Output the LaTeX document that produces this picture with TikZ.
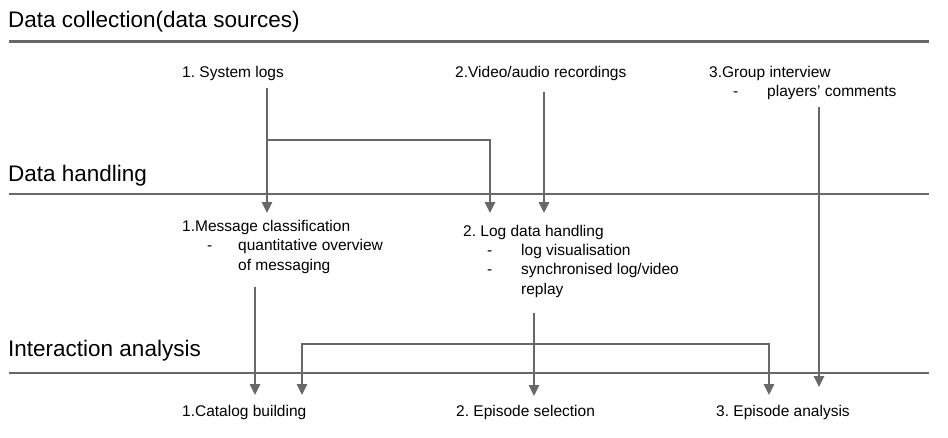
\documentclass[tikz,border=0pt]{standalone}
\usepackage{fontspec}
\setmainfont{Liberation Sans}
\usetikzlibrary{arrows.meta}
\definecolor{rulegray}{RGB}{104,104,104}
\frenchspacing
\tikzset{
	heading/.style={anchor=base west,inner sep=0pt,font=\fontsize{22.5}{27}\selectfont},
	item/.style={anchor=base west,inner sep=0pt,font=\fontsize{15.5}{19}\selectfont},
	rule/.style={draw=rulegray,line width=2.6pt},
	flow/.style={draw=rulegray,line width=2.5pt,-{Triangle[length=11pt,width=10pt]}},
	flowboth/.style={flow,{Triangle[length=11pt,width=10pt]}-{Triangle[length=11pt,width=10pt]}}
}
\begin{document}
\begin{tikzpicture}[x=1pt,y=-1pt]
	\useasboundingbox (0,0) rectangle (948,437);
	% section headings and rules
	\node[heading] (collection) at (8,27) {Data collection(data sources)};
	\node[heading] (handling) at (8,181) {Data handling};
	\node[heading] (interaction) at (8,356) {Interaction analysis};
	\draw[rule] (9,41.5) -- (929,41.5);
	\draw[rule] (9,194) -- (929,194);
	\draw[rule] (9,373) -- (929,373);
	% data sources
	\node[item] (syslogs) at (182,77) {1. System logs};
	\node[item] (recordings) at (455,77) {2.Video/audio recordings};
	\node[item] (interview) at (709,77) {3.Group interview};
	\node[item] (interview-dash) at (733,96) {-};
	\node[item] (interview-1) at (767,96) {players' comments};
	% data handling
	\node[item] (msgclass) at (182,231) {1.Message classification};
	\node[item] (msgclass-dash) at (207,250) {-};
	\node[item] (msgclass-1) at (238,250) {quantitative overview};
	\node[item] (msgclass-2) at (238,270) {of messaging};
	\node[item] (logdata) at (463,236) {2. Log data handling};
	\node[item] (logdata-dash1) at (487,255) {-};
	\node[item] (logdata-1) at (521,255) {log visualisation};
	\node[item] (logdata-dash2) at (487,274) {-};
	\node[item] (logdata-2) at (521,274) {synchronised log/video};
	\node[item] (logdata-3) at (521,294) {replay};
	% interaction analysis
	\node[item] (catalog) at (182,416) {1.Catalog building};
	\node[item] (episel) at (456,416) {2. Episode selection};
	\node[item] (epiana) at (716,416) {3. Episode analysis};
	% connector ends
	\coordinate (syslogs-out) at (267,88);
	\coordinate (syslogs-split) at (267,140);
	\coordinate (recordings-out) at (544,92);
	\coordinate (interview-out) at (819,107);
	\coordinate (msgclass-in) at (267,213);
	\coordinate (logdata-in1) at (490,213);
	\coordinate (logdata-in2) at (544,213);
	\coordinate (msgclass-out) at (255,287);
	\coordinate (logdata-out) at (534,313);
	\coordinate (catalog-in1) at (255,395);
	\coordinate (catalog-in2) at (302,395);
	\coordinate (episel-in) at (534,396);
	\coordinate (epiana-in1) at (769,395);
	\coordinate (epiana-in2) at (819,387);
	% arrows
	\draw[flow] (syslogs-out) -- (msgclass-in);
	\draw[flow] (syslogs-split) -| (logdata-in1);
	\draw[flow] (recordings-out) -- (logdata-in2);
	\draw[flow] (interview-out) -- (epiana-in2);
	\draw[flow] (msgclass-out) -- (catalog-in1);
	\draw[flow] (logdata-out) -- (episel-in);
	\draw[flowboth] (catalog-in2) |- (540,344) -| (epiana-in1);
\end{tikzpicture}
\end{document}
